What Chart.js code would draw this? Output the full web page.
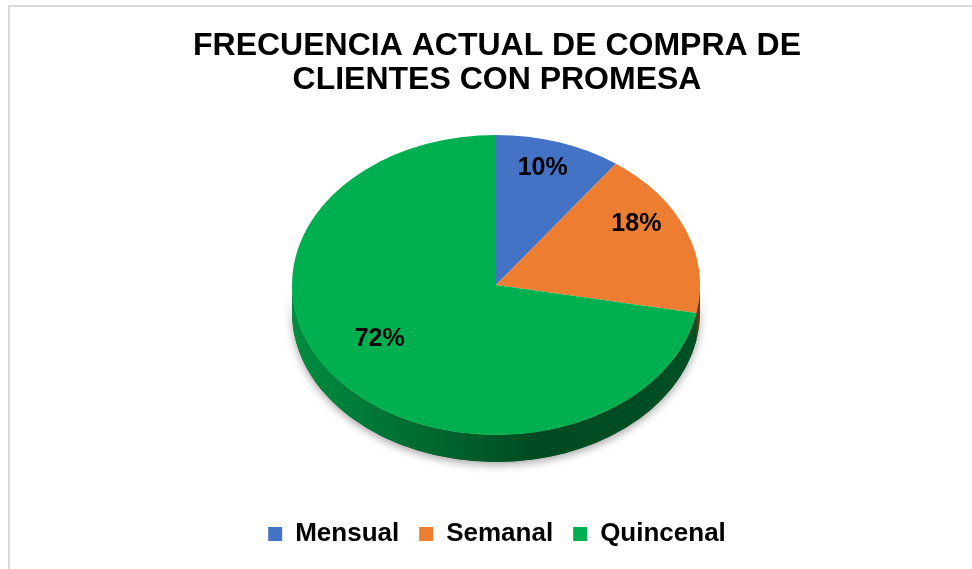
<!DOCTYPE html>
<html>
<head>
<meta charset="utf-8">
<script src="https://cdn.jsdelivr.net/npm/chart.js@4"></script>
<style>
  html, body { margin: 0; padding: 0; background: #fff; }
  #wrap { width: 972px; height: 569px; }
</style>
</head>
<body>
<div id="wrap"><canvas id="pie-chart" width="972" height="569"></canvas></div>
<script>
const categories = ["Mensual", "Semanal", "Quincenal"];
const percentages = [10, 18, 72];
const sliceColors = ["#4472C4", "#ED7D31", "#00B050"];
const chartTitle = ["FRECUENCIA ACTUAL DE COMPRA DE", "CLIENTES CON PROMESA"];

// where the tilted disc sits on the page
const PIE = { x: 496, y: 285, rx: 204, ry: 150, depth: 27, lift: 22 };
const FONT = "'Liberation Sans', Arial, sans-serif";

function shade(hex, f) {
  const n = parseInt(hex.slice(1), 16);
  const r = Math.round(((n >> 16) & 255) * f);
  const g = Math.round(((n >> 8) & 255) * f);
  const b = Math.round((n & 255) * f);
  return `rgb(${r},${g},${b})`;
}

const framePlugin = {
  id: "frame",
  beforeDraw(chart) {
    const ctx = chart.ctx;
    ctx.save();
    ctx.fillStyle = "#fff";
    ctx.fillRect(0, 0, chart.width, chart.height);
    ctx.strokeStyle = "#d9d9d9";
    ctx.lineWidth = 2;
    ctx.beginPath();
    ctx.moveTo(9, chart.height);
    ctx.lineTo(9, 6);
    ctx.lineTo(chart.width, 6);
    ctx.stroke();
    ctx.restore();
  },
};

const tiltPlugin = {
  id: "tilt",
  beforeDatasetsDraw(chart) {
    const ctx = chart.ctx;
    const arcs = chart.getDatasetMeta(0).data;
    const { x, y, outerRadius } = arcs[0].getProps(["x", "y", "outerRadius"], true);
    const { x: X, y: Y, rx, ry, depth } = PIE;

    // wall of the disc (only the front half shows), with a soft shadow
    ctx.save();
    ctx.shadowColor = "rgba(0,0,0,0.35)";
    ctx.shadowBlur = 8;
    ctx.shadowOffsetY = 3;
    ctx.fillStyle = "#0a5a26";
    ctx.beginPath();
    ctx.ellipse(X, Y, rx, ry, 0, 0, Math.PI);
    ctx.ellipse(X, Y + depth, rx, ry, 0, Math.PI, 0, true);
    ctx.closePath();
    ctx.fill();
    ctx.restore();

    arcs.forEach((arc) => {
      const { startAngle, endAngle } = arc.getProps(["startAngle", "endAngle"], true);
      const a = Math.max(startAngle, 0);
      const b = Math.min(endAngle, Math.PI);
      if (a >= b) return;
      const base = arc.options.backgroundColor;
      const grad = ctx.createLinearGradient(X - rx, 0, X + rx, 0);
      grad.addColorStop(0, shade(base, 0.8));
      grad.addColorStop(0.4, shade(base, 0.55));
      grad.addColorStop(0.6, shade(base, 0.42));
      grad.addColorStop(1, shade(base, 0.45));
      ctx.fillStyle = grad;
      ctx.beginPath();
      ctx.ellipse(X, Y, rx, ry, 0, a, b);
      ctx.ellipse(X, Y + depth, rx, ry, 0, b, a, true);
      ctx.closePath();
      ctx.fill();
    });

    // squash the round pie into the top face
    ctx.save();
    ctx.translate(X, Y);
    ctx.scale(rx / outerRadius, ry / outerRadius);
    ctx.translate(-x, -y);
  },
  afterDatasetsDraw(chart) {
    const ctx = chart.ctx;
    ctx.restore();
    const arcs = chart.getDatasetMeta(0).data;
    const { x: X, y: Y, rx, ry, lift } = PIE;
    ctx.save();
    ctx.font = `bold 25px ${FONT}`;
    ctx.fillStyle = "#000";
    ctx.textAlign = "center";
    ctx.textBaseline = "middle";
    arcs.forEach((arc, i) => {
      const { startAngle, endAngle } = arc.getProps(["startAngle", "endAngle"], true);
      const mid = (startAngle + endAngle) / 2;
      const px = X + rx * 0.74 * Math.cos(mid);
      let py = Y + ry * 0.74 * Math.sin(mid);
      const t = (py - Y) / ry;
      py -= lift * (1 - t * t);
      ctx.fillText(percentages[i] + "%", px, py);
    });
    ctx.restore();
  },
};

new Chart(document.getElementById("pie-chart"), {
  type: "pie",
  data: {
    labels: categories,
    datasets: [
      {
        data: percentages,
        backgroundColor: sliceColors,
        borderWidth: 0,
        clip: false,
      },
    ],
  },
  options: {
    responsive: false,
    animation: false,
    layout: { padding: { left: 22, top: 0, right: 0, bottom: 12 } },
    plugins: {
      title: {
        display: true,
        text: chartTitle,
        color: "#000",
        font: { family: FONT, size: 32, weight: "bold", lineHeight: 1.06 },
        padding: { top: 29, bottom: 10 },
      },
      legend: {
        position: "bottom",
        labels: {
          color: "#000",
          font: { family: FONT, size: 26, weight: "bold" },
          boxWidth: 14,
          boxHeight: 14,
          padding: 20,
        },
      },
      tooltip: { enabled: false },
    },
  },
  plugins: [framePlugin, tiltPlugin],
});
</script>
</body>
</html>
